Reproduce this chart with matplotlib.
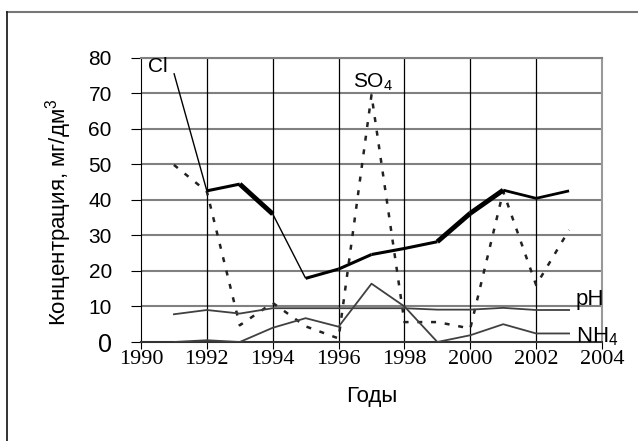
import matplotlib
matplotlib.use("Agg")
from matplotlib import pyplot as plt
from matplotlib.lines import Line2D
import numpy as np

plt.rcParams['font.family'] = ['Liberation Sans', 'DejaVu Sans']
plt.rcParams['mathtext.default'] = 'regular'

# data
years = [1991, 1992, 1993, 1994, 1995, 1996, 1997, 1998, 1999, 2000, 2001, 2002, 2003]
cl = [75.6, 42.5, 44.4, 36.0, 17.9, 20.5, 24.6, 26.3, 28.2, 36.2, 42.7, 40.4, 42.5]
so4 = [49.8, 42.3, 4.7, 11.0, 4.4, 1.0, 69.5, 5.6, 5.6, 3.8, 42.3, 16.0, 31.5]
ph = [7.8, 9.0, 8.0, 9.5, 9.5, 9.5, 9.5, 9.5, 9.1, 9.1, 9.6, 9.0, 9.0]
nh4 = [0.0, 0.5, 0.0, 4.0, 6.7, 4.3, 16.4, 10.0, 0.0, 1.9, 5.0, 2.4, 2.4]

x_ticks = [1990, 1992, 1994, 1996, 1998, 2000, 2002, 2004]
y_ticks = [0, 10, 20, 30, 40, 50, 60, 70, 80]

fig = plt.figure(figsize=(6.38, 4.41), dpi=100)
ax = fig.add_axes([141/638, 1-342/441, 461/638, 284.5/441])

# outer frame (only top and left edges are inside the picture)
fig.lines.append(Line2D([7/638, 1.0], [1-11.5/441, 1-11.5/441], transform=fig.transFigure,
                        color='#777777', linewidth=1.5))
fig.lines.append(Line2D([7/638, 7/638], [0, 1-11.5/441], transform=fig.transFigure,
                        color='#222222', linewidth=1.3))

# grid
for yv in y_ticks[1:]:
    ax.axhline(yv, color='#808080', linewidth=1.5, zorder=1)
for xv in x_ticks[1:-1]:
    ax.axvline(xv, color='black', linewidth=0.9, zorder=1)

# Cl drawn segment by segment, line weight varies
cl_widths = [1.0, 2.2, 3.5, 1.0, 2.2, 2.2, 2.2, 2.2, 3.5, 3.5, 2.0, 2.0]
for i in range(len(years) - 1):
    ax.plot(years[i:i+2], cl[i:i+2], color='black', linewidth=cl_widths[i],
            solid_capstyle='butt', zorder=4)

ax.plot(years, so4, color='#222222', linewidth=1.8, linestyle=(0, (2, 3.5)), zorder=3)
ax.plot(years, ph, color='#404040', linewidth=1.3, zorder=3)
ax.plot(years, nh4, color='#404040', linewidth=1.3, zorder=3)

ax.set_xlim(1990, 2004)
ax.set_ylim(0, 80)
ax.set_xticks(x_ticks)
ax.set_xticklabels([str(v) for v in x_ticks], family='Liberation Serif', fontsize=16)
ax.set_yticks(y_ticks)
ax.set_yticklabels([str(v) for v in y_ticks], fontsize=15)
ax.get_yticklabels()[0].set_fontsize(18)
ax.tick_params(axis='y', direction='out', length=7, width=0.8, pad=14, colors='black')
ax.tick_params(axis='x', direction='out', length=5, width=0.8, pad=1)

ax.spines['left'].set_color('black')
ax.spines['bottom'].set_color('#333333')
ax.spines['bottom'].set_linewidth(1.5)
ax.spines['top'].set_color('#808080')
ax.spines['top'].set_linewidth(1.5)
ax.spines['right'].set_color('#999999')
ax.spines['right'].set_linewidth(1.5)

ax.text(1990.2, 76.0, 'Cl', fontsize=15)
ax.text(1996.45, 71.5, 'SO$_4$', fontsize=15)
ax.text(2003.2, 10.3, 'pH', fontsize=16)
ax.text(2003.2, 0.0, 'NH$_4$', fontsize=16)

ax.set_ylabel('Концентрация, мг/дм$^3$', fontsize=16)
ax.yaxis.set_label_coords(-0.145, 0.455)
ax.set_xlabel('Годы', fontsize=16, labelpad=12)

fig.savefig('out.png', dpi=100)
